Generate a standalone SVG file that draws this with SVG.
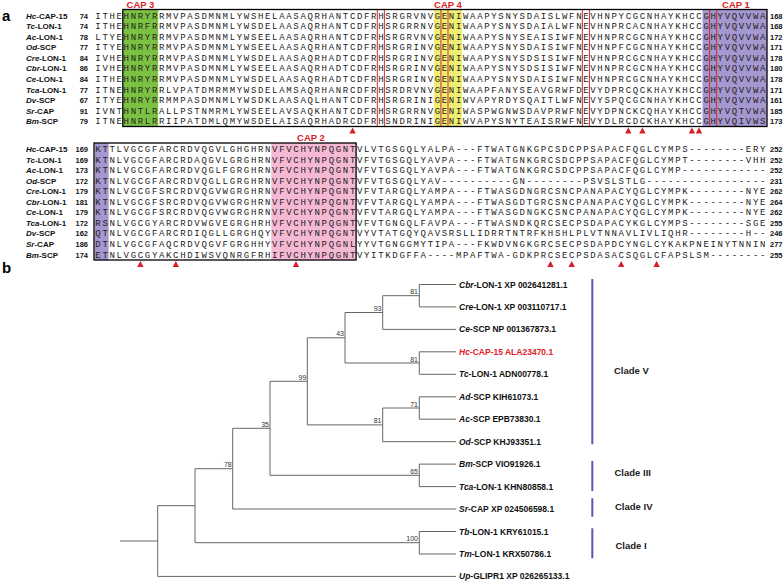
<svg xmlns="http://www.w3.org/2000/svg" width="784" height="582" viewBox="0 0 784 582">
<defs>
<style>
.seq{font-family:"Liberation Mono","DejaVu Sans Mono",monospace;font-size:9px;letter-spacing:1.67px;fill:#222}
.sp{font-family:"Liberation Sans",Arial,sans-serif;font-size:8px;font-weight:bold;fill:#111}
.num{font-family:"Liberation Sans",Arial,sans-serif;font-size:7.5px;font-weight:bold;fill:#111}
.nl{text-anchor:end}
.it{font-style:italic}
.cap{font-family:"Liberation Sans",Arial,sans-serif;font-size:9.5px;font-weight:bold;fill:#d71e28;text-anchor:middle}
.pl{font-family:"Liberation Sans",Arial,sans-serif;font-size:15px;font-weight:bold;fill:#000}
.rb{fill:none;stroke:#d42a2a;stroke-width:1}
.bx{fill:none;stroke:#000;stroke-width:1.3}
.tri{fill:#d71e28}
.edge{fill:none;stroke:#666;stroke-width:1}
.bs{font-family:"Liberation Sans",Arial,sans-serif;font-size:7px;fill:#333;text-anchor:end}
.tip{font-family:"Liberation Sans",Arial,sans-serif;font-size:8.5px;font-weight:bold;fill:#111}
.clade{stroke:#5a56b0;stroke-width:2}
.cl{font-family:"Liberation Sans",Arial,sans-serif;font-size:9.5px;font-weight:bold;fill:#222}
</style>
<path id="tr" d="M-3.2 0 L3.2 0 L0 -6 Z"/>
</defs>
<rect width="784" height="582" fill="#fff"/>

<text class="pl" x="2" y="21">a</text>
<text class="pl" x="2" y="273">b</text>

<g id="block1">
  <rect x="122.8" y="9.5" width="35.35" height="117" fill="#7cc242"/>
  <rect x="433.86" y="9.5" width="28.28" height="117" fill="#f0ee72"/>
  <rect x="702.52" y="9.5" width="64.48" height="117" fill="#a597cf"/>
  <rect class="rb" x="377.3" y="9.5" width="7.07" height="117"/>
  <rect class="rb" x="440.93" y="9.5" width="7.07" height="117"/>
  <rect class="rb" x="582.33" y="9.5" width="7.07" height="117"/>
  <rect class="rb" x="709.59" y="9.5" width="7.07" height="117"/>
  <rect class="bx" x="122.8" y="9.5" width="644.2" height="117"/>
  <text class="cap" x="140.5" y="8">CAP 3</text>
  <text class="cap" x="448" y="8">CAP 4</text>
  <text class="cap" x="736" y="8">CAP 1</text>
  <g class="sp">
    <text x="26" y="18.7"><tspan class="it">Hc</tspan>-CAP-15</text>
    <text x="26" y="29.25"><tspan class="it">Tc</tspan>-LON-1</text>
    <text x="26" y="39.8"><tspan class="it">Ac</tspan>-LON-1</text>
    <text x="26" y="50.35"><tspan class="it">Od</tspan>-SCP</text>
    <text x="26" y="60.9"><tspan class="it">Cre</tspan>-LON-1</text>
    <text x="26" y="71.45"><tspan class="it">Cbr</tspan>-LON-1</text>
    <text x="26" y="82"><tspan class="it">Ce</tspan>-LON-1</text>
    <text x="26" y="92.55"><tspan class="it">Tca</tspan>-LON-1</text>
    <text x="26" y="103.1"><tspan class="it">Dv</tspan>-SCP</text>
    <text x="26" y="113.65"><tspan class="it">Sr</tspan>-CAP</text>
    <text x="26" y="124.2"><tspan class="it">Bm</tspan>-SCP</text>
  </g>
  <g class="num nl">
    <text x="88" y="18.7">74</text>
    <text x="88" y="29.25">74</text>
    <text x="88" y="39.8">78</text>
    <text x="88" y="50.35">77</text>
    <text x="88" y="60.9">84</text>
    <text x="88" y="71.45">86</text>
    <text x="88" y="82">84</text>
    <text x="88" y="92.55">77</text>
    <text x="88" y="103.1">67</text>
    <text x="88" y="113.65">91</text>
    <text x="88" y="124.2">79</text>
  </g>
  <g class="seq">
    <text x="95.33" y="18.7">ITHEHNRYRRMVPASDMNMLYWSHELAASAQRHANTCDFRHSRGRVNVGENIWAAPYSNYSDAISLWFNEVHNPYCGCNHAYKHCCGHYVQVVWA</text>
    <text x="95.33" y="29.25">ITHEHNRFRRMVPASDMNMLYWSDELAASAQRHANTCDFRHSRGRRNVGENIWAAPYSNYSDAIALWFNEVHNPRCACNHAYKHCCGHYVQVVWA</text>
    <text x="95.33" y="39.8">LTYEHNRYRRMVPASDMNMLYWSEELAASAQRHANTCDFRHSRGRVNVGENIWAAPYSNYSEAISIWFNEVHNPRCGCNHAYKHCCGHYVQVVWA</text>
    <text x="95.33" y="50.35">ITYEHNRYRRMVPASDMNMLYWSEELAASAQRHANTCDFRHSRGRINVGENIWAAPYSNYSDAISIWFNEVHNPFCGCNHAYKHCCGHYVQVVWA</text>
    <text x="95.33" y="60.9">IVHEHNRYRRMVPASDMNMLYWSDELAASAQRHADTCDFRHSRGRINVGENIWAAPYSNYSDSISIWFNEVHNPRCGCNHAYKHCCGHYVQVVWA</text>
    <text x="95.33" y="71.45">IVHEHNRYRRMVPASDMNMLYWSEELAASAQRHADTCDFRHSRGRINVGENIWAAPYSNYSDSISIWFNEVHNPRCGCNHAYKHCCGHYVQVVWA</text>
    <text x="95.33" y="82">ITHEHNRYRRMVPASDMNMLYWSDELAASAQRHADTCDFRHSRGRINVGENIWAAPYSNYSDAISIWFNEVHNPRCGCNHAYKHCCGHYVQVVWA</text>
    <text x="95.33" y="92.55">ITNEHNRYRRLVPATDMRMMYWSDELAMSAQRHANRCDFRHSRDRVNVGENIWAAPFANYSEAVGRWFDEVYDPRCQCKHAYKHCCGHYVQVVWA</text>
    <text x="95.33" y="103.1">ITYEHNRYRRMMPASDMNMLYWSDKLAASAQLHANTCDFRHSRGRINIGENIWVAPYRDYSQAITLWFNEVYSPQCGCNHAYKHCCGHYVQVVWA</text>
    <text x="95.33" y="113.65">IVNTHNTLRALLPSTNMRMLYWSEELAVSAQKHANTCDFRHSRGRRNVGENIWASPWGNWSDAVPRWFNEVYDPNCKCQHAYKHCCGHYVQTVWA</text>
    <text x="95.33" y="124.2">ITNEHNRLRRIIPATDMLQMYWSDELAISAQRHADRCDFRHSNDRINIGENIWVAPYSNYTEAISRWFNEVYDLRCDCKHAYKHCCGHYVQIVWS</text>
  </g>
  <g class="num">
    <text x="770" y="18.7">168</text>
    <text x="770" y="29.25">168</text>
    <text x="770" y="39.8">172</text>
    <text x="770" y="50.35">171</text>
    <text x="770" y="60.9">178</text>
    <text x="770" y="71.45">180</text>
    <text x="770" y="82">178</text>
    <text x="770" y="92.55">171</text>
    <text x="770" y="103.1">161</text>
    <text x="770" y="113.65">185</text>
    <text x="770" y="124.2">173</text>
  </g>
  <g class="tri">
    <use href="#tr" x="352.6" y="133.5"/>
    <use href="#tr" x="628.3" y="133.5"/>
    <use href="#tr" x="642.4" y="133.5"/>
    <use href="#tr" x="691.9" y="133.5"/>
    <use href="#tr" x="699" y="133.5"/>
  </g>
</g>

<g id="block2">
  <rect x="94.5" y="143" width="14.14" height="117" fill="#a597cf"/>
  <rect x="271.25" y="143" width="84.84" height="117" fill="#f6b9d5"/>
  <rect class="bx" x="94" y="143" width="262.1" height="117"/>
  <text class="cap" x="311" y="140.5">CAP 2</text>
  <g class="sp">
    <text x="26" y="152"><tspan class="it">Hc</tspan>-CAP-15</text>
    <text x="26" y="162.55"><tspan class="it">Tc</tspan>-LON-1</text>
    <text x="26" y="173.1"><tspan class="it">Ac</tspan>-LON-1</text>
    <text x="26" y="183.65"><tspan class="it">Od</tspan>-SCP</text>
    <text x="26" y="194.2"><tspan class="it">Cre</tspan>-LON-1</text>
    <text x="26" y="204.75"><tspan class="it">Cbr</tspan>-LON-1</text>
    <text x="26" y="215.3"><tspan class="it">Ce</tspan>-LON-1</text>
    <text x="26" y="225.85"><tspan class="it">Tca</tspan>-LON-1</text>
    <text x="26" y="236.4"><tspan class="it">Dv</tspan>-SCP</text>
    <text x="26" y="246.95"><tspan class="it">Sr</tspan>-CAP</text>
    <text x="26" y="257.5"><tspan class="it">Bm</tspan>-SCP</text>
  </g>
  <g class="num nl">
    <text x="88" y="152">169</text>
    <text x="88" y="162.55">169</text>
    <text x="88" y="173.1">173</text>
    <text x="88" y="183.65">172</text>
    <text x="88" y="194.2">179</text>
    <text x="88" y="204.75">181</text>
    <text x="88" y="215.3">179</text>
    <text x="88" y="225.85">172</text>
    <text x="88" y="236.4">162</text>
    <text x="88" y="246.95">186</text>
    <text x="88" y="257.5">174</text>
  </g>
  <g class="seq">
    <text x="95.33" y="152">KTTLVGCGFARCRDVQGVLGHGHRNVFVCHYNPQGNTVLVTGSGQLYALPA---FTWATGNKGPCSDCPPSAPACFQGLCYMPS--------ERY</text>
    <text x="95.33" y="162.55">KTNLVGCGFARCRDAQGVLGRGHRNVFVCHYNPQGNTVFVTGSGQLYAVPA---FTWATGNKGRCSDCPPSAPACFQGLCYMPT--------VHH</text>
    <text x="95.33" y="173.1">KTNLVGCGFARCRDVQGLFGRGHRNVFVCHYNPQGNTVFVTGSGQLYAVPA---FTWATGNKGRCSDCPPSAPACFQGLCYMP------------</text>
    <text x="95.33" y="183.65">KTNLVGCGFARCRDVQGLLGRGHRNVFVCHYNPQGNTVFVTGSGQLYAV----------GN--------PSVSLSTLG-----------------</text>
    <text x="95.33" y="194.2">KTNLVGCGFSRCRDVQGVWGRGHRNVFVCHYNPQGNTVFVTARGQLYAMPA---FTWASGDNGRCSNCPANAPACYQGLCYMPK--------NYE</text>
    <text x="95.33" y="204.75">KTNLVGCGFSRCRDVQGVWGRGHRNVFVCHYNPQGNTVFVTARGQLYAMPA---FTWASGDTGRCSNCPANAPACYQGLCYMPK--------NYE</text>
    <text x="95.33" y="215.3">KTNLVGCGFSRCRDVQGVWGRGHRNVFVCHYNPQGNTVFVTARGQLYAMPA---FTWASGDNGKCSNCPANAPACYQGLCYMPK--------NYE</text>
    <text x="95.33" y="225.85">RSNLVGCGYARCRDVWGVEGRGHRHVFVCHYNPQGNTVFVTGNGQLFAVPA---FTWASNDKQRCSECPSDAPACYKGLCYMPS--------SGE</text>
    <text x="95.33" y="236.4">QTNLVGCGFARCRDIQGLLGRGHQYVFVCHYNPQGNTVYVTATGQYQAVSRSLLIDRRTNTRFKHSHLPLVTNNAVLIVLIQHR--------H--</text>
    <text x="95.33" y="246.95">DTNLVGCGFAQCRDVQGVFGRGHHYVFVCHYNPQGNLYYVTGNGGMYTIPA---FKWDVNGKGRCSECPSDAPDCYNGLCYKAKPNEINYTNNIN</text>
    <text x="95.33" y="257.5">ETNLVGCGYAKCHDIWSVQNRGFRHIFVCHYNPQGNTVYITKDGFFA----MPAFTWA-GDKPRCSECPSDASACSQGLCFAPSLSM--------</text>
  </g>
  <g class="num">
    <text x="770" y="152">252</text>
    <text x="770" y="162.55">252</text>
    <text x="770" y="173.1">252</text>
    <text x="770" y="183.65">231</text>
    <text x="770" y="194.2">262</text>
    <text x="770" y="204.75">264</text>
    <text x="770" y="215.3">262</text>
    <text x="770" y="225.85">255</text>
    <text x="770" y="236.4">246</text>
    <text x="770" y="246.95">277</text>
    <text x="770" y="257.5">255</text>
  </g>
  <g class="tri">
    <use href="#tr" x="140.4" y="267"/>
    <use href="#tr" x="175.8" y="267"/>
    <use href="#tr" x="296" y="267"/>
    <use href="#tr" x="550.5" y="267"/>
    <use href="#tr" x="571.7" y="267"/>
    <use href="#tr" x="621.2" y="267"/>
    <use href="#tr" x="656.6" y="267"/>
  </g>
</g>

<g id="tree-edges" class="edge">
  <path d="M120 541H157.7 M157.7 505.7V576.4 M157.7 576.4H456 M157.7 505.7H195 M195 468.7V542.7 M195 468.7H232.7 M232.7 428.3V509 M232.7 509H456 M195 542.7H419.3 M419.3 531.5V554 M419.3 531.5H456 M419.3 554H456 M232.7 428.3H270 M270 381.3V475.3 M270 475.3H419.3 M419.3 464.1V486.6 M419.3 464.1H456 M419.3 486.6H456 M270 381.3H307.3 M307.3 337.8V424.9 M307.3 424.9H382.7 M382.7 408V441.7 M382.7 441.7H456 M382.7 408H419.3 M419.3 396.8V419.2 M419.3 396.8H456 M419.3 419.2H456 M307.3 337.8H345 M345 312.5V363 M345 363H419.3 M419.3 351.8V374.3 M419.3 351.8H456 M419.3 374.3H456 M345 312.5H382.7 M382.7 295.7V329.4 M382.7 329.4H456 M382.7 295.7H419.3 M419.3 284.5V306.9 M419.3 284.5H456 M419.3 306.9H456"/>
</g>

<g id="bootstrap" class="bs">
  <text x="418" y="294.2">81</text>
  <text x="381.5" y="311">93</text>
  <text x="344" y="336.3">43</text>
  <text x="418" y="361.5">81</text>
  <text x="306.3" y="379.8">99</text>
  <text x="418" y="406.5">71</text>
  <text x="381.5" y="423.4">81</text>
  <text x="269" y="426.8">35</text>
  <text x="418" y="473.8">65</text>
  <text x="231.7" y="467.2">78</text>
  <text x="418" y="541.2">100</text>
</g>

<g id="tips" class="tip">
  <g id="tip-cbr"><text x="459" y="287.5"><tspan class="it">Cbr</tspan>-LON-1 XP 002641281.1</text></g>
  <g id="tip-cre"><text x="459" y="309.9"><tspan class="it">Cre</tspan>-LON-1 XP 003110717.1</text></g>
  <g id="tip-ce"><text x="459" y="332.4"><tspan class="it">Ce</tspan>-SCP NP 001367873.1</text></g>
  <g id="tip-hc"><text x="459" y="354.8" fill="#e3231f"><tspan class="it">Hc</tspan>-CAP-15 ALA23470.1</text></g>
  <g id="tip-tc"><text x="459" y="377.3"><tspan class="it">Tc</tspan>-LON-1 ADN00778.1</text></g>
  <g id="tip-ad"><text x="459" y="399.8"><tspan class="it">Ad</tspan>-SCP KIH61073.1</text></g>
  <g id="tip-ac"><text x="459" y="422.2"><tspan class="it">Ac</tspan>-SCP EPB73830.1</text></g>
  <g id="tip-od"><text x="459" y="444.7"><tspan class="it">Od</tspan>-SCP KHJ93351.1</text></g>
  <g id="tip-bm"><text x="459" y="467.1"><tspan class="it">Bm</tspan>-SCP VIO91926.1</text></g>
  <g id="tip-tca"><text x="459" y="489.6"><tspan class="it">Tca</tspan>-LON-1 KHN80858.1</text></g>
  <g id="tip-sr"><text x="459" y="512"><tspan class="it">Sr</tspan>-CAP XP 024506598.1</text></g>
  <g id="tip-tb"><text x="459" y="534.5"><tspan class="it">Tb</tspan>-LON-1 KRY61015.1</text></g>
  <g id="tip-tm"><text x="459" y="557"><tspan class="it">Tm</tspan>-LON-1 KRX50786.1</text></g>
  <g id="tip-up"><text x="459" y="579.4"><tspan class="it">Up</tspan>-GLIPR1 XP 026265133.1</text></g>
</g>

<g id="clades">
  <line class="clade" x1="592.3" y1="279" x2="592.3" y2="444.3"/>
  <line class="clade" x1="592.3" y1="461" x2="592.3" y2="491"/>
  <line class="clade" x1="592.3" y1="498.3" x2="592.3" y2="516.7"/>
  <line class="clade" x1="592.3" y1="528.3" x2="592.3" y2="558.3"/>
  <text class="cl" x="614" y="373.5">Clade V</text>
  <text class="cl" x="614.5" y="476">Clade III</text>
  <text class="cl" x="615" y="509.5">Clade IV</text>
  <text class="cl" x="615.5" y="548.5">Clade I</text>
</g>
</svg>
